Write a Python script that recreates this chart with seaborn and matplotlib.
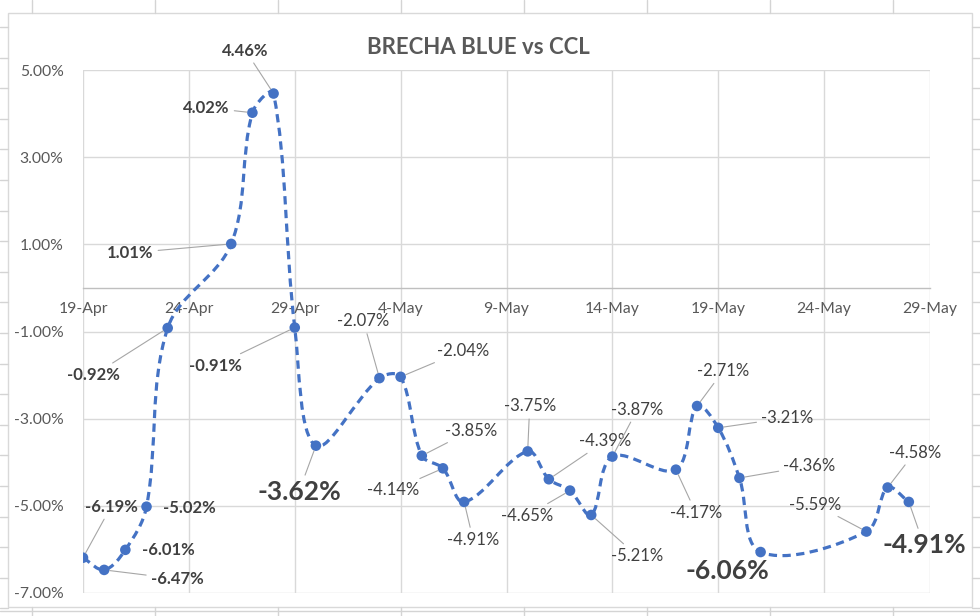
import numpy as np
import pandas as pd
import seaborn as sns
import matplotlib.pyplot as plt
import matplotlib.dates as mdates
from matplotlib.path import Path
from matplotlib.patches import PathPatch
from matplotlib.lines import Line2D
from matplotlib.patches import Rectangle

# Brecha dolar blue vs CCL, abril-mayo 2021

dates = ['2021-04-19', '2021-04-20', '2021-04-21', '2021-04-22', '2021-04-23',
         '2021-04-26', '2021-04-27', '2021-04-28', '2021-04-29', '2021-04-30',
         '2021-05-03', '2021-05-04', '2021-05-05', '2021-05-06', '2021-05-07',
         '2021-05-10', '2021-05-11', '2021-05-12', '2021-05-13', '2021-05-14',
         '2021-05-17', '2021-05-18', '2021-05-19', '2021-05-20', '2021-05-21',
         '2021-05-26', '2021-05-27', '2021-05-28']
brecha = [-6.19, -6.47, -6.01, -5.02, -0.92,
          1.01, 4.02, 4.46, -0.91, -3.62,
          -2.07, -2.04, -3.85, -4.14, -4.91,
          -3.75, -4.39, -4.65, -5.21, -3.87,
          -4.17, -2.71, -3.21, -4.36, -6.06,
          -5.59, -4.58, -4.91]
y_ticks = [-7, -5, -3, -1, 1, 3, 5]

# label placement (offset in pixels from the point), leader line, size
label_offsets = [(28, 51), (73, -9), (43, 0), (43, -1), (-74, -47),
                 (-101, -9), (-46, 5), (-28, 43), (-79, -38), (-17, -46),
                 (-16, 57), (62, 26), (49, 25), (-50, -22), (9, -38),
                 (2, 45), (56, 38), (-43, -25), (46, -41), (25, 47),
                 (20, -43), (26, 35), (69, 10), (70, 12), (-33, -19),
                 (-51, 27), (27, 35), (15, -43)]
leaders = [1, 1, 0, 0, 1,
           1, 1, 1, 1, 1,
           1, 1, 1, 1, 1,
           1, 1, 1, 1, 1,
           1, 1, 1, 1, 0,
           1, 1, 1]
big = [9, 24, 27]

df = pd.DataFrame({'fecha': pd.to_datetime(dates), 'brecha': brecha})

sns.set_style('white')
plt.rcParams['font.family'] = ['Lato', 'DejaVu Sans']

fig = plt.figure(figsize=(9.8, 6.16), dpi=100)
ax = fig.add_axes([83 / 980, 23 / 616, 847 / 980, 523 / 616])
ax.set_xlim(pd.Timestamp('2021-04-19'), pd.Timestamp('2021-05-29'))
ax.set_ylim(-7, 5)

blue = '#4472C4'

# smoothed dashed line, built in pixel space like Excel's smoothing
pts = ax.transData.transform(np.column_stack([mdates.date2num(df['fecha']), df['brecha']]))
ext = np.vstack([pts[0], pts, pts[-1]])
t = 0.35
ctrl_in, ctrl_out = [], []
for i in range(len(pts)):
    p0, p1, p2 = ext[i], ext[i + 1], ext[i + 2]
    d01 = np.hypot(*(p1 - p0))
    d12 = np.hypot(*(p2 - p1))
    tot = d01 + d12 if d01 + d12 > 0 else 1
    ctrl_in.append(p1 - t * d01 / tot * (p2 - p0))
    ctrl_out.append(p1 + t * d12 / tot * (p2 - p0))
verts = [pts[0]]
codes = [Path.MOVETO]
for i in range(len(pts) - 1):
    verts += [ctrl_out[i], ctrl_in[i + 1], pts[i + 1]]
    codes += [Path.CURVE4] * 3
verts = ax.transData.inverted().transform(np.array(verts))
ax.add_patch(PathPatch(Path(verts, codes), facecolor='none', edgecolor=blue,
                       lw=2.3, linestyle=(0, (2.6, 1.7)), zorder=3,
                       capstyle='butt'))

sns.scatterplot(data=df, x='fecha', y='brecha', ax=ax, color=blue, s=58,
                edgecolor='none', zorder=4, legend=False)

for i, (d, v) in enumerate(zip(df['fecha'], brecha)):
    dx, dy = label_offsets[i]
    if i in big:
        fs, fw = 19, 'bold'
    elif d.month == 4:
        fs, fw = 12, 'bold'
    else:
        fs, fw = 12, 'normal'
    arrow = dict(arrowstyle='-', color='#A6A6A6', lw=0.8, shrinkA=1, shrinkB=4) if leaders[i] else None
    ax.annotate(f'{v:.2f}%', xy=(d, v), xytext=(dx, dy), textcoords='offset pixels',
                ha='center', va='center', fontsize=fs, fontweight=fw,
                color='#404040', arrowprops=arrow, zorder=5)

ax.set_xticks(pd.date_range('2021-04-19', '2021-05-29', freq='5D'))
ax.xaxis.set_major_formatter(mdates.DateFormatter('%-d-%b'))
ax.set_yticks(y_ticks)
ax.set_yticklabels([f'{t:.2f}%' for t in y_ticks])
ax.set_xlabel('')
ax.set_ylabel('')

ax.grid(True, color='#D9D9D9', lw=1)
for s in ['top', 'right', 'left']:
    ax.spines[s].set_visible(False)
ax.spines['bottom'].set_position(('data', 0))
ax.spines['bottom'].set_color('#BFBFBF')
ax.spines['bottom'].set_linewidth(1)
ax.tick_params(axis='x', length=0, pad=10, labelsize=11.3, labelcolor='#595959')
ax.tick_params(axis='y', length=0, pad=14, labelsize=11.3, labelcolor='#595959')

fig.text(478 / 980, 1 - 47 / 616, 'BRECHA BLUE vs CCL', ha='center', va='center',
         fontsize=16, fontweight='bold', color='#595959')

# chart border and surrounding sheet cells
fig.add_artist(Rectangle((8 / 980, 1 - 607 / 616), 964 / 980, 594 / 616,
                         transform=fig.transFigure, fill=False, ec='#D9D9D9', lw=1))
for cx in [32, 155, 278, 401, 524, 647, 770, 893]:
    fig.add_artist(Line2D([cx / 980] * 2, [1, 1 - 13 / 616], color='#D4D4D4', lw=1))
    fig.add_artist(Line2D([cx / 980] * 2, [1 - 607 / 616, 0], color='#D4D4D4', lw=1))
for ry in np.arange(27, 616, 30.6):
    fig.add_artist(Line2D([0, 8 / 980], [1 - ry / 616] * 2, color='#D4D4D4', lw=1))
    fig.add_artist(Line2D([972 / 980, 1], [1 - ry / 616] * 2, color='#D4D4D4', lw=1))
fig.add_artist(Line2D([0, 1], [1 - 611 / 616] * 2, color='#D4D4D4', lw=1))

plt.savefig('out.png', dpi=100)
